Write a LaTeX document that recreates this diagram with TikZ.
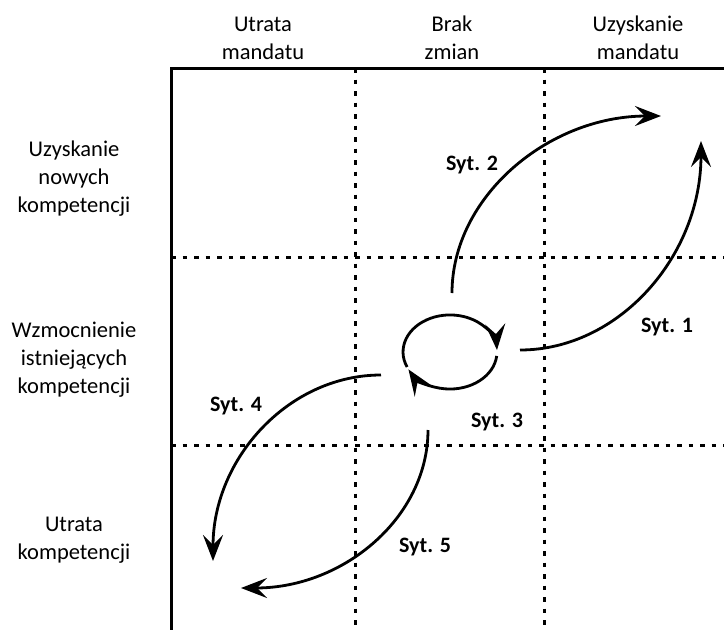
\documentclass[tikz,border=0pt]{standalone}
\usepackage{fontspec}
\setmainfont{Carlito}
\usetikzlibrary{arrows.meta}

\begin{document}
\begin{tikzpicture}[x=1pt,y=-1pt,>={Stealth[length=26pt,width=20pt,inset=10pt]},
    frame/.style={line width=3pt},
    grid/.style={line width=3pt,dash pattern=on 4.5pt off 7pt},
    arr/.style={->,line width=2.8pt},
    head/.style={font=\fontsize{22.5}{28}\selectfont,align=center,inner sep=0pt},
    syt/.style={font=\fontsize{22}{26}\selectfont\bfseries,inner sep=0pt}]
  \useasboundingbox (0,0) rectangle (724,630);

  % headers
  \node[head] (c1) at (263,38) {Utrata\\mandatu};
  \node[head] (c2) at (452,38) {Brak\\zmian};
  \node[head] (c3) at (638,38) {Uzyskanie\\mandatu};
  \node[head] (r1) at (74,179) {Uzyskanie\\nowych\\kompetencji};
  \node[head] (r2) at (74,360) {Wzmocnienie\\istniejących\\kompetencji};
  \node[head] (r3) at (74,540) {Utrata\\kompetencji};

  % frame and grid
  \coordinate (o) at (171,68);
  \foreach \x in {355,544}
    \draw[grid] (\x,68) -- (\x,630);
  \foreach \y in {257,445}
    \draw[grid] (171,\y) -- (724,\y);
  \draw[frame] (171,630) -- (o) -- (724,68);

  % situations
  \coordinate (a1) at (520,350);
  \coordinate (b1) at (701,141);
  \coordinate (a2) at (452,293);
  \coordinate (b2) at (661,116);
  \coordinate (a4) at (381,375);
  \coordinate (b4) at (213,561);
  \coordinate (a5) at (428,430);
  \coordinate (b5) at (241,588);
  \coordinate (a3) at (407.1,367.0);
  \coordinate (b3) at (496.7,355.9);

  \draw[arr] (a1) .. controls (619,350) and (701,256) .. (b1);
  \draw[arr] (a2) .. controls (452,197) and (548,116) .. (b2);
  \draw[arr] (a4) .. controls (289,375) and (213,458) .. (b4);
  \draw[arr] (a5) .. controls (428,517) and (344,588) .. (b5);
  \draw[arr] (a3) arc[start angle=156,end angle=357,x radius=47,y radius=37];
  \draw[arr] (b3) arc[start angle=6,end angle=152,x radius=47,y radius=37];

  \node[syt] (s1) at (667,327) {Syt. 1};
  \node[syt] (s2) at (472,165) {Syt. 2};
  \node[syt] (s3) at (497,422) {Syt. 3};
  \node[syt] (s4) at (236,406) {Syt. 4};
  \node[syt] (s5) at (425,547) {Syt. 5};
\end{tikzpicture}
\end{document}
